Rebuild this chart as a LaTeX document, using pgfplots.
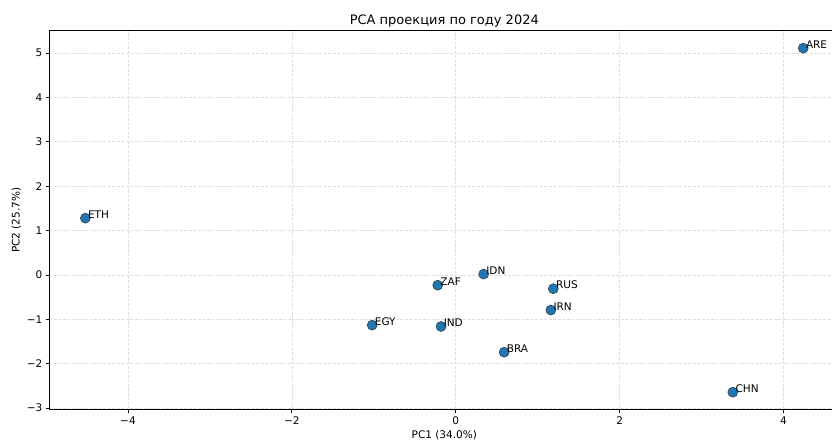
\documentclass[border=0pt]{standalone}
\usepackage{fontspec}
\setmainfont{DejaVu Sans}
\usepackage{pgfplots}
\pgfplotsset{compat=1.18}
\usetikzlibrary{calc}
\definecolor{mblue}{RGB}{31,119,180}
\begin{document}
\begin{tikzpicture}
\begin{axis}[
 scale only axis, width=790pt, height=378.7pt,
 xmin=-4.96, xmax=4.68, ymin=-3.03, ymax=5.5,
 xtick={-4,-2,0,2,4}, xticklabels={−4,−2,0,2,4},
 ytick={-3,-2,-1,0,1,2,3,4,5}, yticklabels={−3,−2,−1,0,1,2,3,4,5},
 grid=major, grid style={gray!25, dash pattern=on 3pt off 1.5pt, line width=0.6pt},
 tick align=outside, tick pos=left, major tick length=3.5pt,
 tick style={black, line width=0.8pt},
 axis line style={line width=0.8pt},
 /pgf/number format/assume math mode=true,
 tick label style={font=\fontsize{10.5}{12}\selectfont},
 xlabel={PC1 (34.0\%)}, ylabel={PC2 (25.7\%)},
 label style={font=\fontsize{10.5}{12}\selectfont},
 xlabel style={at={(axis description cs:0.5,0)}, anchor=base, yshift=-29.5pt},
 ylabel style={at={(axis description cs:-0.0418,0.5)}, anchor=center, rotate=0},
 title={PCA проекция по году 2024},
 title style={at={(axis description cs:0.5,1)}, anchor=base, yshift=0pt, font=\fontsize{13}{15}\selectfont},
]
\addplot[only marks, mark=*, mark size=5pt,
  mark options={fill=mblue, draw=black!80, line width=0.5pt},
  nodes near coords, point meta=explicit symbolic,
  nodes near coords style={anchor=base west, xshift=2.5pt, inner sep=0pt, font=\fontsize{10.5}{12}\selectfont, black}]
 table[meta=label] {
x y label
-4.52 1.28 ETH
4.24 5.11 ARE
0.34 0.02 IDN
-0.22 -0.23 ZAF
1.19 -0.31 RUS
1.16 -0.79 IRN
-1.02 -1.13 EGY
-0.18 -1.16 IND
0.59 -1.74 BRA
3.38 -2.64 CHN
};
\end{axis}
\pgfresetboundingbox
\path ($(current axis.south west)+(-49.3pt,-31.5pt)$) rectangle ($(current axis.north east)+(-7.3pt,30.8pt)$);
\end{tikzpicture}
\end{document}
